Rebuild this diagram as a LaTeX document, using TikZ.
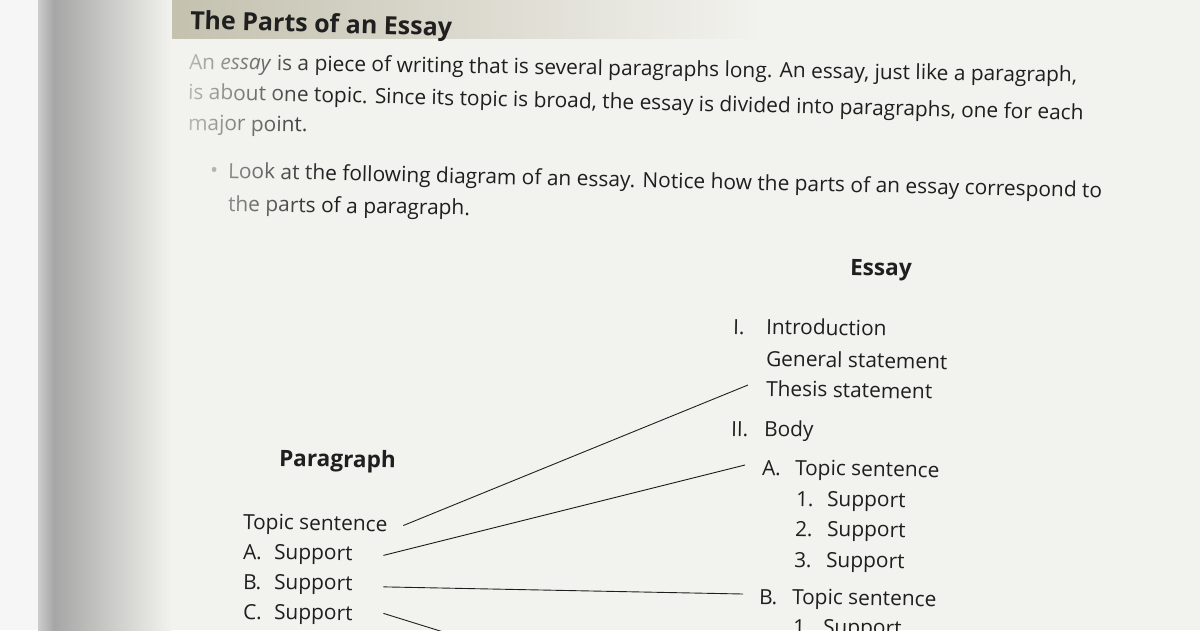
\documentclass[tikz,border=0pt]{standalone}
\usepackage{fontspec}
\setmainfont{Open Sans}
\usetikzlibrary{calc,fadings}
\definecolor{pagebg}{HTML}{F2F2EE}
\definecolor{band}{HTML}{C4C1AF}
\definecolor{ink}{HTML}{1F1F1F}
\definecolor{edgew}{HTML}{F6F6F6}
\definecolor{edgeg}{HTML}{A6A6A6}
\tikzfading[name=fadeR, left color=transparent!0, right color=transparent!100]
\begin{document}
\begin{tikzpicture}[x=1pt,y=-1pt,
  txt/.style={anchor=base west, inner sep=0pt, outer sep=0pt, text=ink,
    font=\fontsize{20.9}{24}\selectfont, rotate=-1},
  bodytxt/.style={txt, font=\fontsize{20.9}{24}\selectfont},
  headtxt/.style={txt, font=\fontsize{22.6}{26}\selectfont\bfseries},
  titletxt/.style={txt, font=\fontsize{25}{30}\selectfont\bfseries, rotate=-0.5},
  link/.style={draw=ink, line width=0.9pt},
]
\useasboundingbox (0,0) rectangle (1200,630);
% background: page, book gutter, header band
\fill[pagebg] (0,0) rectangle (1200,630);
\fill[edgew] (0,0) rectangle (38,630);
\shade[left color=white!80!black, right color=edgeg] (38,0) rectangle (54,630);
\shade[left color=edgeg, right color=pagebg] (54,0) rectangle (172,630);
\shade[left color=band, right color=pagebg] (172,0) rectangle (760,38);

% title and introduction text
\node[titletxt] (title) at (190,29) {The Parts of an Essay};
\node[bodytxt, rotate=0.15] (p1) at (189,69) {An \textit{essay} is a piece of writing that is several paragraphs long. An essay, just like a paragraph,};
\node[bodytxt, rotate=-0.35] (p2) at (188,99) {is about one topic. Since its topic is broad, the essay is divided into paragraphs, one for each};
\node[bodytxt] (p3) at (188,130) {major point.};
\node[bodytxt, text=black!65] (bul) at (210,177) {\textbullet};
\node[bodytxt, rotate=-0.3] (b1) at (228,178) {Look at the following diagram of an essay. Notice how the parts of an essay correspond to};
\node[bodytxt] (b2) at (228,211) {the parts of a paragraph.};
% faded left edge of the scanned text
\fill[pagebg, path fading=fadeR, opacity=0.75] (184,44) rectangle (330,220);

% Essay column
\node[headtxt] (essay) at (850,275) {Essay};
\node[txt] (eI) at (733,334) {I.};
\node[txt] (eintro) at (766,334) {Introduction};
\node[txt] (egen) at (766,366) {General statement};
\node[txt] (ethesis) at (766,396) {Thesis statement};
\node[txt] (eII) at (731,436) {II.};
\node[txt] (ebody) at (764,436) {Body};
\node[txt] (eA) at (762,475) {A.};
\node[txt] (eAt) at (795,475) {Topic sentence};
\node[txt] (eA1) at (796,506) {1.};
\node[txt] (eA1s) at (827,506) {Support};
\node[txt] (eA2) at (795,536) {2.};
\node[txt] (eA2s) at (827,536) {Support};
\node[txt] (eA3) at (794,567) {3.};
\node[txt] (eA3s) at (826,567) {Support};
\node[txt] (eB) at (759,604) {B.};
\node[txt] (eBt) at (792,604) {Topic sentence};
\node[txt] (eB1) at (793,634) {1.};
\node[txt] (eB1s) at (823,634) {Support};

% Paragraph column
\node[headtxt] (para) at (279,466) {Paragraph};
\node[txt] (pts) at (243,529) {Topic sentence};
\node[txt] (pA) at (243,559) {A.};
\node[txt] (pAs) at (274,559) {Support};
\node[txt] (pB) at (243,589) {B.};
\node[txt] (pBs) at (274,589) {Support};
\node[txt] (pC) at (243,619) {C.};
\node[txt] (pCs) at (274,619) {Support};

% connectors
\coordinate (cEnd) at (482,644);
\draw[link] ($(pts.base east)+(16,-6)$) -- ($(ethesis.base west)+(-18,-11)$);
\draw[link] ($(pAs.base east)+(31,-5)$) -- ($(eA.base west)+(-17,-10)$);
\draw[link] ($(pBs.base east)+(31,-3.5)$) -- ($(eB.base west)+(-16,-10)$);
\draw[link] ($(pCs.base east)+(31,-7)$) -- (cEnd);
\end{tikzpicture}
\end{document}
